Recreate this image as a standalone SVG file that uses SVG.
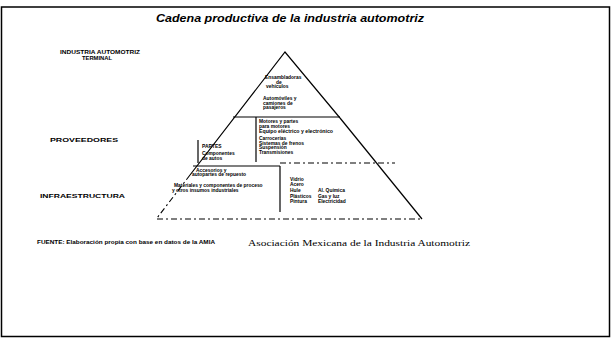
<svg xmlns="http://www.w3.org/2000/svg" width="612" height="338" viewBox="0 0 612 338">
  <style>
    .frame { fill: #ffffff; stroke: #000000; stroke-width: 1.5; }
    .edge { fill: none; stroke: #000000; stroke-width: 1.2; }
    .dash { fill: none; stroke: #000000; stroke-width: 1.1; stroke-dasharray: 6 3 2 3; }
    .title { font-family: "Liberation Sans", Arial, sans-serif; font-size: 10px; font-weight: bold; font-style: italic; fill: #000; }
    .lbl { font-family: "Liberation Sans", Arial, sans-serif; font-size: 5.5px; font-weight: bold; fill: #000; }
    .txt { font-family: "Liberation Sans", Arial, sans-serif; font-size: 4.9px; font-weight: bold; fill: #000; }
    .src { font-family: "Liberation Serif", "Times New Roman", serif; font-size: 8px; fill: #000; }
  </style>

  <!-- page frame -->
  <rect class="frame" x="1.5" y="7" width="608" height="329.5"/>

  <text class="title" x="290" y="22" text-anchor="middle" textLength="268" lengthAdjust="spacingAndGlyphs">Cadena productiva de la industria automotriz</text>

  <!-- tier labels on the left -->
  <g id="label-terminal">
    <text class="lbl" x="60" y="54" textLength="80" lengthAdjust="spacingAndGlyphs">INDUSTRIA AUTOMOTRIZ</text>
    <text class="lbl" x="82" y="59.5" textLength="30" lengthAdjust="spacingAndGlyphs">TERMINAL</text>
  </g>
  <g id="label-proveedores">
    <text class="lbl" x="50" y="142" textLength="68" lengthAdjust="spacingAndGlyphs">PROVEEDORES</text>
  </g>
  <g id="label-infraestructura">
    <text class="lbl" x="40" y="198" textLength="85" lengthAdjust="spacingAndGlyphs">INFRAESTRUCTURA</text>
  </g>

  <!-- pyramid outline and internal dividers -->
  <g id="connectors">
    <polyline class="edge" points="190,175 285,52 340,118"/>
    <polyline class="dash" points="190,175 157,218"/>
    <polyline class="edge" points="340,118 422,219"/>
    <line class="dash" x1="157" y1="219" x2="422" y2="219"/>
    <line class="edge" x1="233" y1="117" x2="340" y2="117"/>
    <line class="edge" x1="256" y1="117" x2="256" y2="162"/>
    <line class="edge" x1="198" y1="140" x2="198" y2="163"/>
    <line class="edge" x1="193" y1="166" x2="280" y2="166"/>
    <line class="edge" x1="280" y1="166" x2="280" y2="212"/>
    <line class="dash" x1="280" y1="163" x2="395" y2="163"/>
  </g>

  <!-- top tier: vehicle assembly -->
  <g id="tier-terminal">
    <text class="txt" x="265" y="79">Ensambladoras</text>
    <text class="txt" x="276" y="83.5">de</text>
    <text class="txt" x="266" y="88">vehículos</text>
    <text class="txt" x="263" y="100">Automóviles y</text>
    <text class="txt" x="263" y="104.5">camiones de</text>
    <text class="txt" x="263" y="109">pasajeros</text>
  </g>

  <!-- middle tier: suppliers -->
  <g id="tier-proveedores">
    <text class="txt" x="259" y="123">Motores y partes</text>
    <text class="txt" x="259" y="127.5">para motores</text>
    <text class="txt" x="259" y="133" textLength="74" lengthAdjust="spacingAndGlyphs">Equipo eléctrico y electrónico</text>
    <text class="txt" x="259" y="140">Carrocerías</text>
    <text class="txt" x="259" y="144.5">Sistemas de frenos</text>
    <text class="txt" x="259" y="149">Suspensión</text>
    <text class="txt" x="259" y="153.5">Transmisiones</text>
    <text class="txt" x="202" y="148">PARTES</text>
    <text class="txt" x="202" y="155">Componentes</text>
    <text class="txt" x="202" y="159.5">de autos</text>
    <text class="txt" x="196" y="171.5">Accesorios y</text>
    <text class="txt" x="192" y="176">autopartes de repuesto</text>
  </g>

  <!-- bottom tier: infrastructure -->
  <g id="tier-infraestructura">
    <text class="txt" x="174" y="187">Materiales y componentes de proceso</text>
    <text class="txt" x="172" y="191.5">y otros insumos industriales</text>
    <text class="txt" x="290" y="181">Vidrio</text>
    <text class="txt" x="290" y="186">Acero</text>
    <text class="txt" x="290" y="192">Hule</text>
    <text class="txt" x="290" y="197.5">Plásticos</text>
    <text class="txt" x="290" y="203">Pintura</text>
    <text class="txt" x="318" y="192">Al. Química</text>
    <text class="txt" x="318" y="197.5">Gas y luz</text>
    <text class="txt" x="318" y="203">Electricidad</text>
  </g>

  <!-- source note -->
  <text class="txt" x="37" y="244" textLength="178" lengthAdjust="spacingAndGlyphs">FUENTE: Elaboración propia con base en datos de la AMIA</text>
  <text class="src" x="248" y="246" textLength="222" lengthAdjust="spacingAndGlyphs">Asociación Mexicana de la Industria Automotriz</text>
</svg>
